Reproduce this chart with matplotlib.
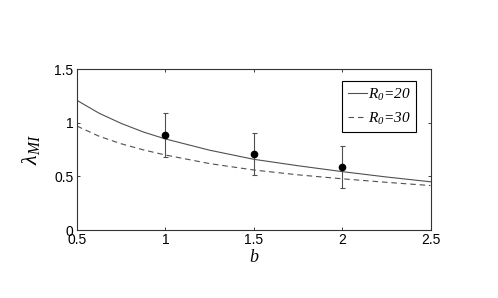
import matplotlib
matplotlib.use("Agg")
import matplotlib.pyplot as plt

# ---- data ----
b_curve = [0.5, 0.625, 0.75, 0.875, 1.0, 1.25, 1.5, 1.75, 2.0, 2.25, 2.5]
lam_R20 = [1.21, 1.09, 0.995, 0.915, 0.85, 0.745, 0.66, 0.60, 0.545, 0.495, 0.45]
lam_R30 = [0.97, 0.875, 0.805, 0.748, 0.70, 0.62, 0.56, 0.515, 0.478, 0.445, 0.415]

b_obs = [1.0, 1.5, 2.0]
lam_obs = [0.885, 0.71, 0.59]
lam_err = [0.205, 0.20, 0.195]

x_ticks = [0.5, 1, 1.5, 2, 2.5]
x_ticklabels = ["0.5", "1", "1.5", "2", "2.5"]
y_ticks = [0, 0.5, 1, 1.5]
y_ticklabels = ["0", "0.5", "1", "1.5"]
legend_labels = ["R$_0$=20", "R$_0$=30"]

plt.rcParams["mathtext.fontset"] = "custom"
plt.rcParams["mathtext.rm"] = "Liberation Serif:italic"
plt.rcParams["mathtext.it"] = "Liberation Serif:italic"

fig = plt.figure(figsize=(4.98, 2.98), dpi=100)
ax = fig.add_axes([77 / 498, 68 / 298, 353.5 / 498, 160.7 / 298])

gray = "#505050"
l1, = ax.plot(b_curve, lam_R20, color=gray, lw=0.8, label=legend_labels[0])
l2, = ax.plot(b_curve, lam_R30, color=gray, lw=0.8, dashes=(5, 3.5),
              label=legend_labels[1])
ax.errorbar(b_obs, lam_obs, yerr=lam_err, fmt="o", color="black",
            markersize=4.5, ecolor=gray, elinewidth=0.8, capsize=1.8,
            capthick=0.8)

ax.set_xlim(0.5, 2.5)
ax.set_ylim(0, 1.5)
ax.set_xticks(x_ticks)
ax.set_xticklabels(x_ticklabels)
ax.set_yticks(y_ticks)
ax.set_yticklabels(y_ticklabels)
ax.tick_params(direction="in", top=True, right=True, length=2.5, width=0.6,
               colors="#222222", labelsize=10, pad=2.5)
for lab in ax.get_xticklabels() + ax.get_yticklabels():
    lab.set_fontfamily("Liberation Sans")
    lab.set_color("black")
for sp in ax.spines.values():
    sp.set_color("#333333")
    sp.set_linewidth(0.8)

ax.set_xlabel("b", fontfamily="Liberation Serif", fontstyle="italic",
              fontsize=13, labelpad=1)
ax.set_ylabel(r"$\lambda_{MI}$", fontsize=16, labelpad=9)

leg = ax.legend(handles=[l1, l2], loc="upper right",
                bbox_to_anchor=(0.96, 0.925),
                prop={"family": "Liberation Serif", "style": "italic",
                      "size": 11},
                frameon=True, fancybox=False, framealpha=1,
                edgecolor="black", handlelength=1.25, handletextpad=0.1,
                borderpad=0.35, labelspacing=0.5, borderaxespad=0)
leg.get_frame().set_linewidth(0.8)

fig.savefig("out.png", dpi=100)
